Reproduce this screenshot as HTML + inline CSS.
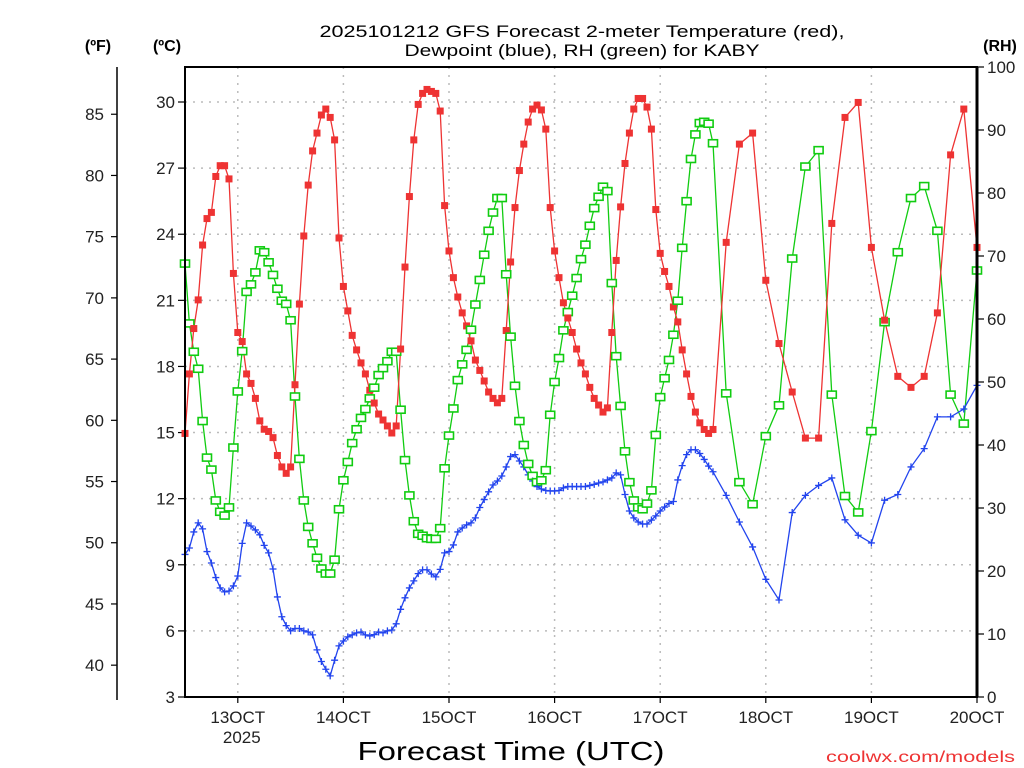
<!DOCTYPE html>
<html><head><meta charset="utf-8"><style>
html,body{margin:0;padding:0;background:#fff;}
svg{display:block;font-family:"Liberation Sans",sans-serif;}
</style></head><body>
<svg id="chart" width="1024" height="768" viewBox="0 0 1024 768" xmlns="http://www.w3.org/2000/svg">
<rect width="1024" height="768" fill="#fff"/>
<text x="582" y="37" font-size="17" text-anchor="middle" textLength="525" lengthAdjust="spacingAndGlyphs">2025101212 GFS Forecast 2-meter Temperature (red),</text>
<text x="582" y="56" font-size="17" text-anchor="middle" textLength="355" lengthAdjust="spacingAndGlyphs">Dewpoint (blue), RH (green) for KABY</text>
<text x="98" y="51" font-size="16" font-weight="bold" text-anchor="middle">(ºF)</text>
<text x="167" y="51" font-size="16" font-weight="bold" text-anchor="middle">(ºC)</text>
<text x="1000" y="51" font-size="16" font-weight="bold" text-anchor="middle">(RH)</text>
<text x="511" y="760" font-size="26" text-anchor="middle" textLength="307" lengthAdjust="spacingAndGlyphs">Forecast Time (UTC)</text>
<text x="1015" y="762" font-size="16" fill="#e33" text-anchor="end" textLength="189" lengthAdjust="spacingAndGlyphs">coolwx.com/models</text>
<g id="grid"></g><g id="axes"></g><g id="series"></g>
<rect x="185" y="67" width="792" height="630" fill="none" stroke="#000" stroke-width="2"/>
<line x1="977" y1="67" x2="977" y2="697" stroke="#000" stroke-width="3"/>
</svg>
<script>
const hoursHourly = Array.from({length:121},(_,i)=>i);
const hours3h = [123,126,129,132,135,138,141,144,147,150,153,156,159,162,165,168,171,174,177,180];
const tempC = [14.96,17.66,19.72,21.02,23.51,24.71,24.99,26.62,27.11,27.11,
26.51,22.22,19.54,19.13,17.66,17.23,16.55,15.53,15.15,15.05,
14.77,13.96,13.44,13.15,13.44,17.17,20.83,23.92,26.23,27.78,
28.59,29.41,29.68,29.30,28.28,23.83,21.63,20.52,19.41,18.75,
18.16,17.66,16.92,16.34,15.84,15.57,15.30,14.98,15.30,18.79,
22.51,25.71,28.28,29.89,30.39,30.57,30.48,30.39,29.59,25.30,
23.24,22.03,21.15,20.43,19.84,19.16,18.29,17.82,17.34,16.84,
16.55,16.35,16.55,19.63,22.74,25.21,26.89,28.09,29.09,29.68,
29.86,29.64,28.77,25.21,23.24,22.03,20.89,20.20,19.54,18.79,
18.16,17.66,17.05,16.55,16.25,15.93,16.12,19.54,22.81,25.24,
27.21,28.59,29.68,30.16,30.16,29.77,28.77,25.12,23.13,22.31,
21.63,20.70,20.02,18.75,17.66,16.64,15.93,15.44,15.14,14.96,
15.14,
23.63,28.09,28.59,21.91,19.04,16.84,14.75,14.75,24.49,29.30,29.98,23.40,20.10,17.55,17.05,17.55,20.43,27.60,29.68,23.40];
const dewC = [9.47,9.76,10.49,10.90,10.63,9.60,9.08,8.42,7.95,7.77,
7.81,8.04,8.49,9.97,10.90,10.76,10.58,10.36,9.88,9.54,
8.81,7.54,6.64,6.24,6.00,6.11,6.11,6.00,5.95,5.82,
5.14,4.61,4.26,3.96,4.67,5.32,5.54,5.73,5.82,5.91,
5.95,5.82,5.77,5.83,5.95,5.91,6.00,6.04,6.32,6.98,
7.50,7.95,8.27,8.60,8.77,8.77,8.58,8.45,8.79,9.54,
9.60,9.90,10.49,10.67,10.81,10.90,11.13,11.60,11.96,12.31,
12.62,12.80,13.03,13.44,13.91,14.00,13.71,13.44,13.08,12.80,
12.55,12.44,12.37,12.35,12.35,12.37,12.49,12.55,12.55,12.55,
12.55,12.55,12.60,12.65,12.71,12.76,12.85,12.94,13.17,13.08,
12.19,11.44,11.13,10.94,10.85,10.85,11.03,11.22,11.44,11.62,
11.78,11.87,12.85,13.50,14.00,14.22,14.22,14.05,13.78,13.48,
13.22,
12.15,10.94,9.81,8.34,7.40,11.37,12.15,12.60,12.94,11.04,10.34,9.99,11.93,12.19,13.44,14.27,15.71,15.71,16.07,17.14];
const rhPct = [68.8,59.3,54.8,52.1,43.8,38.0,36.1,31.2,29.4,28.8,
30.1,39.6,48.5,54.9,64.3,65.5,67.4,70.9,70.6,69.0,
67.0,64.8,62.9,62.4,59.8,47.7,37.8,31.2,27.0,24.4,
22.1,20.4,19.6,19.6,21.8,29.8,34.4,37.3,40.3,42.5,
44.3,45.7,47.4,49.1,51.1,52.2,53.3,54.8,54.8,45.6,
37.6,32.0,27.9,25.9,25.6,25.2,25.1,25.1,26.8,36.3,
41.5,45.8,50.3,52.8,55.1,58.3,62.3,66.2,70.2,74.0,
76.9,79.2,79.2,67.1,57.2,49.4,43.8,40.0,37.0,35.1,
34.1,34.4,36.0,44.8,50.0,53.8,58.2,61.1,63.7,66.5,
69.5,71.8,74.8,77.6,79.4,81.0,80.3,65.7,54.1,46.2,
39.0,34.1,31.2,30.1,29.8,30.7,32.8,41.6,47.6,50.6,
53.5,57.5,62.9,71.3,78.7,85.4,89.3,91.1,91.3,91.0,
87.9,
48.2,34.1,30.6,41.4,46.3,69.6,84.2,86.8,48.0,31.9,29.3,42.2,59.5,70.6,79.2,81.1,74.0,48.0,43.4,67.7];
const celsiusTicks = [3,6,9,12,15,18,21,24,27,30];
const fahrenheitTicks = [40,45,50,55,60,65,70,75,80,85];
const rhTicks = [0,10,20,30,40,50,60,70,80,90,100];
const dayLabels = ["13OCT","14OCT","15OCT","16OCT","17OCT","18OCT","19OCT","20OCT"];
const dayHours = [12,36,60,84,108,132,156,180];

const hours = hoursHourly.concat(hours3h);
const X0=185, X1=977, Y0=697, Y1=67;
const xOf = h => X0 + h*(X1-X0)/180;
const yC = c => Y0 - (c-3)*(Y0-102)/27;
const yRH = r => Y0 - r*(Y0-Y1)/100;
const NS="http://www.w3.org/2000/svg";
function mk(tag, parent, attrs, txt){const e=document.createElementNS(NS,tag);for(const k in attrs)e.setAttribute(k,attrs[k]);if(txt!==undefined)e.textContent=txt;parent.appendChild(e);return e;}
const grid=document.getElementById('grid'), axes=document.getElementById('axes'), series=document.getElementById('series');

celsiusTicks.forEach(c=>{const y=yC(c);
 const g=mk('line',grid,{x1:X0,x2:X1,y1:y,y2:y,stroke:'#bbb','stroke-width':1.5,'stroke-dasharray':'2 6'});
 
 
 mk('line',axes,{x1:X0-7,x2:X0,y1:y,y2:y,stroke:'#000','stroke-width':1.2});
 const t=mk('text',axes,{x:X0-10,y:y+6,'font-size':17,'text-anchor':'end',fill:'#222'},String(c));
 
 
});
mk('line',axes,{x1:117,x2:117,y1:67,y2:700,stroke:'#000','stroke-width':1.5});
fahrenheitTicks.forEach(f=>{const y=yC((f-32)*5/9);
 mk('line',axes,{x1:111,x2:117,y1:y,y2:y,stroke:'#000','stroke-width':1.2});
 const t=mk('text',axes,{x:104,y:y+6,'font-size':17,'text-anchor':'end',fill:'#222'},String(f));
 
 
});
rhTicks.forEach(r=>{const y=yRH(r);
 mk('line',axes,{x1:X1,x2:X1+7,y1:y,y2:y,stroke:'#000','stroke-width':1.2});
 const t=mk('text',axes,{x:X1+10,y:y+6,'font-size':17,'text-anchor':'start',fill:'#222'},String(r));
 
 
});
dayHours.forEach((h,i)=>{const x=xOf(h);
 if(i<dayHours.length-1){const g=mk('line',grid,{x1:x,x2:x,y1:Y1,y2:Y0,stroke:'#bbb','stroke-width':1.5,'stroke-dasharray':'2 6'});
 
 }
 mk('line',axes,{x1:x,x2:x,y1:Y0,y2:Y0+6,stroke:'#000','stroke-width':1.2});
 const t=mk('text',axes,{x:x,y:723,'font-size':17,'text-anchor':'middle',fill:'#222'},dayLabels[i]);
 
 
});
const yr=mk('text',axes,{x:xOf(12)+4,y:743,'font-size':17,'text-anchor':'middle',fill:'#222'},'2025');



function drawLine(vals, yf, color, name){
 const pts=hours.map((h,i)=>xOf(h).toFixed(1)+','+yf(vals[i]).toFixed(1)).join(' ');
 const p=mk('polyline',series,{points:pts,fill:'none',stroke:color,'stroke-width':1.3});
 
 
}
drawLine(rhPct,yRH,'#11cc11','rh-line');
drawLine(dewC,yC,'#2244ee','dewpoint-line');
drawLine(tempC,yC,'#ee3333','temperature-line');
hours.forEach((h,i)=>{
 const x=xOf(h);
 const g=mk('rect',series,{x:x-4.5,y:yRH(rhPct[i])-3.5,width:9,height:7,fill:'#fff',stroke:'#11cc11','stroke-width':1.6});
 
 
 const yd=yC(dewC[i]);
 const d=mk('path',series,{d:`M${x-3.5},${yd}H${x+3.5}M${x},${yd-3.5}V${yd+3.5}`,stroke:'#2244ee','stroke-width':1.3,fill:'none'});
 
 
 const r=mk('rect',series,{x:x-3.5,y:yC(tempC[i])-3.5,width:7,height:7,fill:'#ee3333'});
 
 
});
</script>
</body></html>
